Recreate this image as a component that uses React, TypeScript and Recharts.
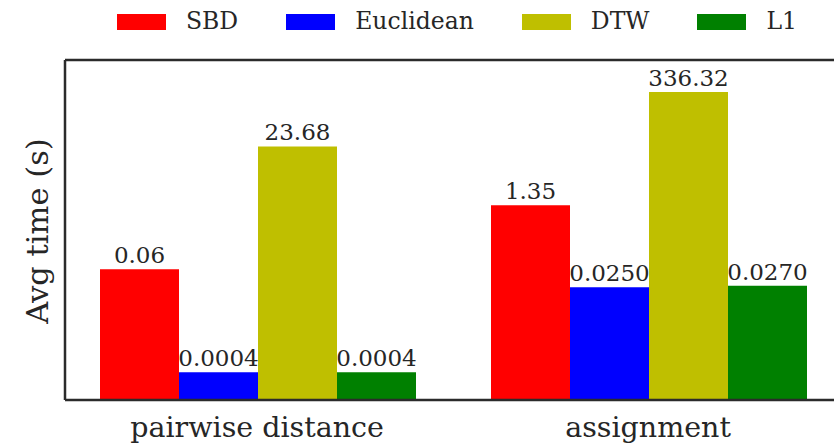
import React from 'react';
import { BarChart, Bar, XAxis, YAxis, LabelList } from 'recharts';

const categories = ['pairwise distance', 'assignment'];
const seriesNames = ['SBD', 'Euclidean', 'DTW', 'L1'];
const seriesColors = ['#ff0000', '#0000ff', '#bfbf00', '#008000'];
const sbdValues = [0.06, 1.35];
const euclideanValues = [0.0004, 0.025];
const dtwValues = [23.68, 336.32];
const l1Values = [0.0004, 0.027];
const sbdLabels = ['0.06', '1.35'];
const euclideanLabels = ['0.0004', '0.0250'];
const dtwLabels = ['23.68', '336.32'];
const l1Labels = ['0.0004', '0.0270'];
const yDomain = [0.0001035, 1596];
const yAxisTitle = 'Avg time (s)';

const seriesValues = [sbdValues, euclideanValues, dtwValues, l1Values];
const seriesLabels = [sbdLabels, euclideanLabels, dtwLabels, l1Labels];

const data = categories.map((cat, i) => {
  const row: Record<string, string | number> = { cat };
  seriesNames.forEach((name, s) => {
    row[name] = seriesValues[s][i];
    row[name + '_label'] = seriesLabels[s][i];
  });
  return row;
});

const FONT = "'DejaVu Serif', serif";
const TEXT = '#262626';
const FRAME = '#2b2b2b';

const YLabel = (props: any) => {
  const vb = props.viewBox || { x: 0, y: 0, width: 0, height: 0 };
  const x = vb.x + 48;
  const y = vb.y + vb.height / 2 + 1;
  return (
    <text
      x={x}
      y={y}
      transform={`rotate(-90, ${x}, ${y})`}
      textAnchor="middle"
      fontSize={30.5}
      fontFamily={FONT}
      fill={TEXT}
    >
      {yAxisTitle}
    </text>
  );
};

const LegendBox = () => (
  <div
    style={{
      position: 'absolute',
      top: 0,
      left: 0,
      height: 43,
      display: 'flex',
      alignItems: 'center',
      paddingLeft: 117,
      fontFamily: FONT,
      fontSize: 23.5,
      color: TEXT,
      lineHeight: 1,
    }}
  >
    {seriesNames.map((name, i) => (
      <div key={name} style={{ display: 'flex', alignItems: 'center', marginRight: 48 }}>
        <span style={{ display: 'inline-block', width: 49, height: 16, background: seriesColors[i], marginRight: 20 }} />
        <span>{name}</span>
      </div>
    ))}
  </div>
);

export default function App() {
  return (
    <div style={{ position: 'absolute', left: 0, top: 0, width: 834, height: 444, overflow: 'hidden', background: '#fff' }}>
      <BarChart
        width={860}
        height={444}
        data={data}
        margin={{ top: 59, right: 16.5, bottom: 0, left: 0 }}
        barCategoryGap={38.5}
        barGap={0}
      >
        <XAxis
          dataKey="cat"
          height={44}
          padding={{ left: -3.5, right: 0 }}
          axisLine={{ stroke: FRAME, strokeWidth: 2.5 }}
          tickLine={false}
          tick={{ fontSize: 28.5, fontFamily: FONT, fill: TEXT }}
          tickMargin={10.5}
          interval={0}
        />
        <XAxis
          xAxisId="top"
          dataKey="cat"
          orientation="top"
          height={1}
          padding={{ left: -3.5, right: 0 }}
          axisLine={{ stroke: FRAME, strokeWidth: 2.5 }}
          tickLine={false}
          tick={false}
        />
        <YAxis
          type="number"
          scale="log"
          domain={yDomain}
          allowDataOverflow
          width={65}
          axisLine={{ stroke: FRAME, strokeWidth: 2.5 }}
          tickLine={false}
          tick={false}
          label={<YLabel />}
        />
        {seriesNames.map((name, i) => (
          <Bar key={name} dataKey={name} fill={seriesColors[i]} isAnimationActive={false}>
            <LabelList
              dataKey={name + '_label'}
              position="top"
              offset={6}
              fill={TEXT}
              fontSize={23}
              fontFamily={FONT}
            />
          </Bar>
        ))}
      </BarChart>
      <LegendBox />
    </div>
  );
}
